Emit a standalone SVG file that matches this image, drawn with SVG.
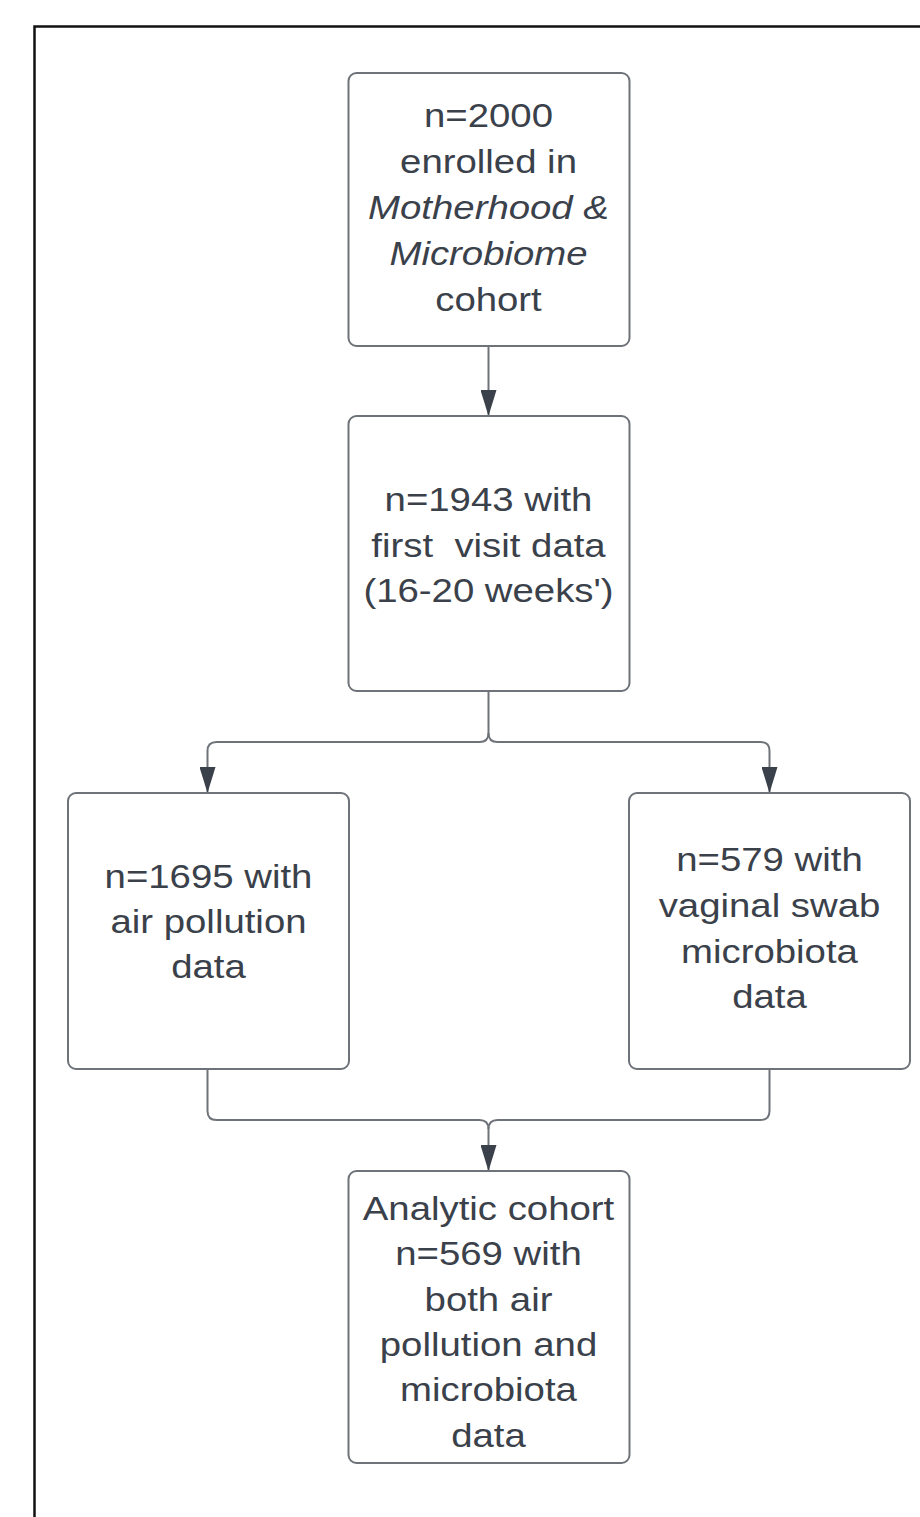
<svg xmlns="http://www.w3.org/2000/svg" width="920" height="1517" viewBox="0 0 920 1517">
<style>
.box{fill:#fff;stroke:#6e737a;stroke-width:2}
.lbl{font-family:"Liberation Sans",Arial,sans-serif;font-size:32.5px;fill:#3a414a;text-anchor:middle}
.con{fill:none;stroke:#6e737a;stroke-width:2}
</style>
<defs>
<marker id="ah" viewBox="0 0 26 16" refX="26" refY="8" markerWidth="26" markerHeight="16" markerUnits="userSpaceOnUse" orient="auto">
<path d="M0,0 L26,8 L0,16 z" fill="#3a414a"/>
</marker>
</defs>
<rect width="920" height="1517" fill="#fff"/>
<rect x="34.5" y="26.5" width="920" height="1520" fill="none" stroke="#111" stroke-width="2.5"/>
<g id="connectors">
<path class="con" d="M488.5,346 V416" marker-end="url(#ah)"/>
<path class="con" d="M488.5,691 V733 Q488.5,742 479.5,742 H216.5 Q207.5,742 207.5,751 V793" marker-end="url(#ah)"/>
<path class="con" d="M488.5,733 Q488.5,742 497.5,742 H760.5 Q769.5,742 769.5,751 V793" marker-end="url(#ah)"/>
<path class="con" d="M207.5,1069 V1111 Q207.5,1120 216.5,1120 H479.5 Q488.5,1120 488.5,1129 V1171" marker-end="url(#ah)"/>
<path class="con" d="M769.5,1069 V1111 Q769.5,1120 760.5,1120 H497.5 Q488.5,1120 488.5,1129"/>
</g>
<g id="node-enrolled">
<rect class="box" x="348.5" y="73" width="281" height="273" rx="8"/>
<text class="lbl" transform="translate(488.5 0) scale(1.18 1)"><tspan x="0" y="127">n=2000</tspan><tspan x="0" y="173">enrolled in</tspan><tspan x="0" y="219" font-style="italic">Motherhood &amp;</tspan><tspan x="0" y="265" font-style="italic">Microbiome</tspan><tspan x="0" y="311">cohort</tspan></text>
</g>
<g id="node-first-visit">
<rect class="box" x="348.5" y="416" width="281" height="275" rx="8"/>
<text class="lbl" transform="translate(488.5 0) scale(1.18 1)" xml:space="preserve"><tspan x="0" y="511">n=1943 with</tspan><tspan x="0" y="557">first  visit data</tspan><tspan x="0" y="602">(16-20 weeks')</tspan></text>
</g>
<g id="node-air">
<rect class="box" x="68" y="793" width="281" height="276" rx="8"/>
<text class="lbl" transform="translate(208.5 0) scale(1.18 1)"><tspan x="0" y="888">n=1695 with</tspan><tspan x="0" y="933">air pollution</tspan><tspan x="0" y="978">data</tspan></text>
</g>
<g id="node-swab">
<rect class="box" x="629" y="793" width="281" height="276" rx="8"/>
<text class="lbl" transform="translate(769.5 0) scale(1.18 1)"><tspan x="0" y="871">n=579 with</tspan><tspan x="0" y="917">vaginal swab</tspan><tspan x="0" y="963">microbiota</tspan><tspan x="0" y="1008">data</tspan></text>
</g>
<g id="node-analytic">
<rect class="box" x="348.5" y="1171" width="281" height="292" rx="8"/>
<text class="lbl" transform="translate(488.5 0) scale(1.18 1)"><tspan x="0" y="1220">Analytic cohort</tspan><tspan x="0" y="1265.3">n=569 with</tspan><tspan x="0" y="1310.6">both air</tspan><tspan x="0" y="1356">pollution and</tspan><tspan x="0" y="1401.3">microbiota</tspan><tspan x="0" y="1446.7">data</tspan></text>
</g>
</svg>
